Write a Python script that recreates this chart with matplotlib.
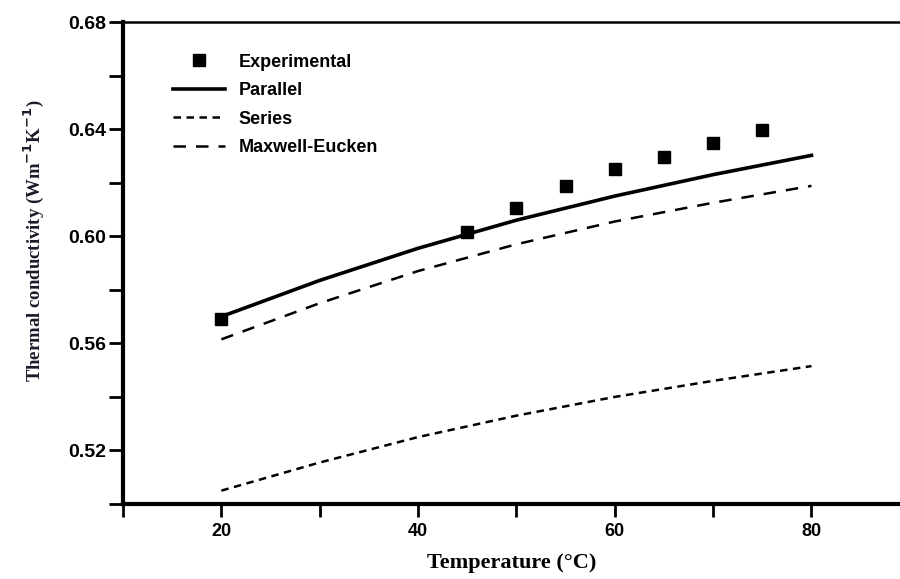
import numpy as np
import matplotlib.pyplot as plt
from matplotlib.ticker import MultipleLocator

# Dados
temp_exp = [20, 45, 50, 55, 60, 65, 70, 75]
k_exp = [0.5692, 0.6016, 0.6106, 0.6188, 0.6252, 0.6296, 0.6348, 0.6397]

temp_mod = [20, 30, 40, 50, 60, 70, 80]
k_parallel = [0.5700, 0.5835, 0.5955, 0.6060, 0.6150, 0.6230, 0.6302]
k_series = [0.5050, 0.5155, 0.5250, 0.5330, 0.5400, 0.5460, 0.5515]
k_maxwell = [0.5615, 0.5750, 0.5870, 0.5970, 0.6055, 0.6125, 0.6188]

plt.rcParams['font.family'] = ['Liberation Sans', 'DejaVu Sans']

fig = plt.figure(figsize=(9, 5.79), dpi=100)
ax = fig.add_axes([0.1367, 0.1295, 0.8633, 0.8325])

ax.plot(temp_exp, k_exp, 's', color='black', markersize=9, label='Experimental')
ax.plot(temp_mod, k_parallel, '-', color='black', linewidth=2.6, label='Parallel')
ax.plot(temp_mod, k_series, color='black', linewidth=1.8, dashes=(3, 2.2), label='Series')
ax.plot(temp_mod, k_maxwell, color='black', linewidth=1.8, dashes=(5, 4), label='Maxwell-Eucken')

ax.set_xlim(10, 89)
ax.set_ylim(0.50, 0.68)
ax.set_xticks([20, 40, 60, 80])
ax.set_yticks([0.52, 0.56, 0.60, 0.64, 0.68])
ax.xaxis.set_minor_locator(MultipleLocator(10))
ax.yaxis.set_minor_locator(MultipleLocator(0.02))
ax.set_yticklabels(['0.52', '0.56', '0.60', '0.64', '0.68'])

ax.tick_params(which='both', direction='out', width=2)
ax.tick_params(axis='y', which='both', length=10, labelsize=14, pad=2)
ax.tick_params(axis='x', which='both', length=9, labelsize=13, pad=5)
for lab in ax.get_xticklabels() + ax.get_yticklabels():
    lab.set_fontweight('bold')

ax.spines['left'].set_linewidth(3)
ax.spines['bottom'].set_linewidth(3)
ax.spines['top'].set_linewidth(1.8)
ax.spines['right'].set_visible(False)

ax.set_xlabel('Temperature (°C)', family='Liberation Serif', fontweight='bold',
              fontsize=16, labelpad=9)
fig.text(0.037, 0.585, r'Thermal conductivity (Wm$^{\mathbf{-1}}$K$^{\mathbf{-1}}$)',
         family='Liberation Serif', fontweight='bold', fontsize=13.5,
         rotation=90, ha='center', va='center', color='#1b1b2a')

leg = ax.legend(loc='upper left', bbox_to_anchor=(0.043, 0.968), frameon=False,
                prop={'weight': 'bold', 'size': 13}, handlelength=2.9,
                handletextpad=0.75, labelspacing=0.64)

fig.savefig('out.png', dpi=100)
